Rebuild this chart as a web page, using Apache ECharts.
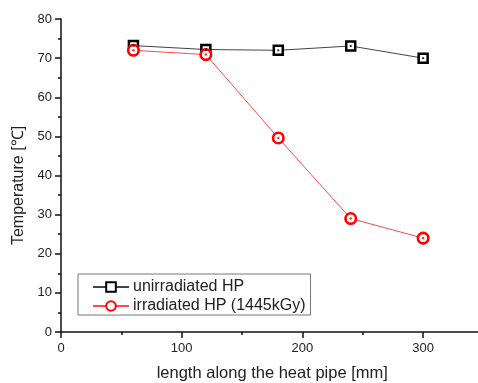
<!DOCTYPE html>
<html>
<head>
<meta charset="utf-8">
<script src="https://cdn.jsdelivr.net/npm/echarts@6/dist/echarts.min.js"></script>
<style>
  html, body { margin: 0; padding: 0; background: #fff; }
  #chart { width: 478px; height: 383px; }
</style>
</head>
<body>
<div id="chart"></div>
<script>
// positions along the heat pipe (mm)
const lengths = [60, 120, 180, 240, 300];
// temperatures (°C)
const unirradiated = [73.2, 72.2, 72.0, 73.1, 70.0];
const irradiated = [72.0, 70.9, 49.6, 29.0, 24.0];
const seriesNames = ['unirradiated HP', 'irradiated HP (1445kGy)'];

const pairs = (ys) => lengths.map((x, i) => [x, ys[i]]);

const chart = echarts.init(document.getElementById('chart'), null, { renderer: 'canvas' });

const font = 'Liberation Sans, Arial, sans-serif';

const option = {
  backgroundColor: '#fff',
  animation: false,
  grid: { left: 61, right: -5.5, top: 19, bottom: 51, outerBoundsMode: 'none', containLabel: false },
  legend: {
    data: seriesNames,
    orient: 'vertical',
    left: 78,
    top: 274,
    padding: [5, 5, 1, 14],
    itemWidth: 36,
    itemHeight: 12,
    itemGap: 3,
    borderColor: '#777',
    borderWidth: 1,
    textStyle: { fontFamily: font, fontSize: 16, color: '#222', padding: [0, 0, 0, -1] }
  },
  xAxis: {
    type: 'value',
    min: 0,
    max: 350,
    interval: 100,
    name: 'length along the heat pipe [mm]',
    nameLocation: 'middle',
    nameGap: 33,
    nameTextStyle: { fontFamily: font, fontSize: 16.5, color: '#222' },
    axisLine: { show: true, lineStyle: { color: '#111', width: 1.5 } },
    axisTick: { show: true, length: 6, lineStyle: { color: '#111', width: 1.5 } },
    minorTick: { show: true, splitNumber: 2, length: 3, lineStyle: { color: '#111', width: 1.5 } },
    axisLabel: {
      fontFamily: font, fontSize: 13, color: '#222', margin: 10,
      showMaxLabel: false,
      formatter: (v) => (v % 100 === 0 ? String(v) : '')
    },
    splitLine: { show: false }
  },
  yAxis: {
    type: 'value',
    min: 0,
    max: 80,
    interval: 10,
    name: 'Temperature [℃]',
    nameLocation: 'middle',
    nameGap: 33,
    nameTextStyle: { fontFamily: font, fontSize: 16, color: '#222', padding: [0, 20, 0, 0] },
    axisLine: { show: true, lineStyle: { color: '#111', width: 1.5 } },
    axisTick: { show: true, length: 6, lineStyle: { color: '#111', width: 1.5 } },
    minorTick: { show: true, splitNumber: 2, length: 3, lineStyle: { color: '#111', width: 1.5 } },
    axisLabel: { fontFamily: font, fontSize: 13, color: '#222', margin: 9 },
    splitLine: { show: false }
  },
  series: [
    {
      name: seriesNames[0],
      type: 'line',
      data: pairs(unirradiated),
      symbol: 'rect',
      symbolSize: 9,
      showAllSymbol: true,
      itemStyle: { color: '#fff', borderColor: '#000', borderWidth: 2.5 },
      lineStyle: { color: '#444', width: 1 },
      z: 3
    },
    {
      name: seriesNames[1],
      type: 'line',
      data: pairs(irradiated),
      symbol: 'circle',
      symbolSize: 10.5,
      showAllSymbol: true,
      itemStyle: { color: '#fff', borderColor: '#ff0000', borderWidth: 2.6 },
      lineStyle: { color: '#ff4a4a', width: 1 },
      z: 4
    },
    // centre dots of the markers
    {
      type: 'scatter',
      data: pairs(unirradiated),
      symbol: 'rect',
      symbolSize: 2,
      itemStyle: { color: '#000' },
      z: 5
    },
    {
      type: 'scatter',
      data: pairs(irradiated),
      symbol: 'circle',
      symbolSize: 2.5,
      itemStyle: { color: '#ff0000' },
      z: 6
    }
  ]
};

chart.setOption(option);
</script>
</body>
</html>
